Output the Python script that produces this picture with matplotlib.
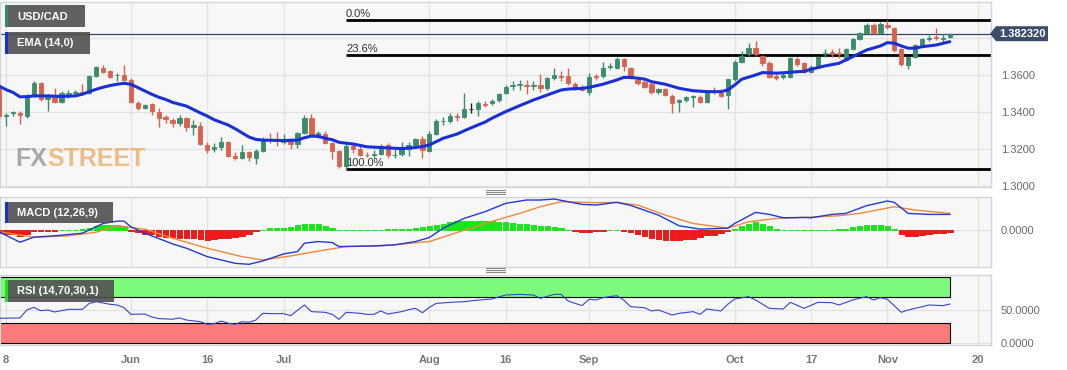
import matplotlib
matplotlib.use('Agg')
import matplotlib.pyplot as plt
from matplotlib.patches import Rectangle, Polygon
from matplotlib.lines import Line2D
import numpy as np

plt.rcParams['font.family'] = ['Liberation Sans', 'DejaVu Sans']

# ---------------- data ----------------
first_index = -1  # May 5 2023; index 0 = May 8 (weekday bars)
opens = [1.3540,1.3378,1.3396,1.3392,1.3378,1.3488,1.3555,1.3470,1.3480,1.3456,1.3500,1.3503,1.3510,1.3501,1.3596,1.3640,1.3622,1.3598,1.3600,1.3573,
         1.3447,1.3423,1.3443,1.3402,1.3371,1.3357,1.3339,1.3366,1.3321,1.3324,1.3222,1.3198,1.3212,1.3236,1.3164,1.3150,1.3182,1.3150,1.3191,1.3254,
         1.3247,1.3240,1.3252,1.3225,1.3285,1.3369,1.3276,1.3280,1.3231,1.3191,1.3108,1.3216,1.3198,1.3170,1.3166,1.3173,1.3222,1.3165,1.3173,1.3198,
         1.3222,1.3252,1.3191,1.3281,1.3349,1.3351,1.3378,1.3371,1.3415,1.3414,1.3445,1.3447,1.3465,1.3501,1.3538,1.3546,1.3548,1.3543,1.3546,1.3528,
         1.3582,1.3595,1.3596,1.3550,1.3537,1.3510,1.3594,1.3596,1.3644,1.3636,1.3686,1.3636,1.3573,1.3564,1.3551,1.3510,1.3523,1.3487,1.3452,1.3465,
         1.3481,1.3483,1.3456,1.3512,1.3505,1.3492,1.3576,1.3672,1.3713,1.3744,1.3703,1.3663,1.3595,1.3587,1.3591,1.3685,1.3663,1.3618,1.3649,1.3715,
         1.3722,1.3718,1.3681,1.3739,1.3793,1.3825,1.3870,1.3825,1.3870,1.3852,1.3739,1.3654,1.3699,1.3762,1.3795,1.3808,1.3796,1.3805]
highs = [1.3560,1.3392,1.3408,1.3408,1.3495,1.3567,1.3562,1.3495,1.3532,1.3512,1.3520,1.3517,1.3551,1.3600,1.3650,1.3655,1.3628,1.3610,1.3654,1.3585,
         1.3457,1.3445,1.3450,1.3420,1.3385,1.3370,1.3385,1.3375,1.3355,1.3348,1.3240,1.3230,1.3267,1.3245,1.3185,1.3222,1.3190,1.3200,1.3265,1.3288,
         1.3292,1.3283,1.3257,1.3292,1.3385,1.3389,1.3298,1.3295,1.3240,1.3195,1.3225,1.3225,1.3222,1.3185,1.3192,1.3225,1.3230,1.3200,1.3240,1.3240,
         1.3262,1.3268,1.3300,1.3360,1.3372,1.3394,1.3395,1.3501,1.3450,1.3460,1.3458,1.3470,1.3505,1.3545,1.3565,1.3572,1.3572,1.3565,1.3604,1.3590,
         1.3640,1.3620,1.3636,1.3560,1.3545,1.3610,1.3605,1.3669,1.3666,1.3696,1.3692,1.3642,1.3580,1.3575,1.3560,1.3530,1.3530,1.3495,1.3470,1.3488,
         1.3490,1.3490,1.3515,1.3537,1.3512,1.3580,1.3680,1.3732,1.3775,1.3785,1.3710,1.3675,1.3605,1.3610,1.3700,1.3695,1.3672,1.3655,1.3705,1.3740,
         1.3738,1.3745,1.3745,1.3800,1.3835,1.3880,1.3880,1.3885,1.3897,1.3860,1.3745,1.3700,1.3770,1.3800,1.3815,1.3852,1.3820,1.3826]
lows = [1.3370,1.3322,1.3380,1.3335,1.3365,1.3480,1.3462,1.3405,1.3450,1.3448,1.3475,1.3494,1.3492,1.3495,1.3590,1.3612,1.3585,1.3570,1.3568,1.3448,
        1.3410,1.3415,1.3384,1.3321,1.3340,1.3317,1.3325,1.3297,1.3276,1.3220,1.3177,1.3185,1.3195,1.3155,1.3141,1.3146,1.3135,1.3119,1.3185,1.3230,
        1.3215,1.3225,1.3200,1.3205,1.3280,1.3270,1.3262,1.3225,1.3144,1.3100,1.3093,1.3176,1.3160,1.3155,1.3150,1.3165,1.3150,1.3150,1.3160,1.3160,
        1.3210,1.3151,1.3185,1.3275,1.3330,1.3340,1.3350,1.3365,1.3395,1.3380,1.3425,1.3438,1.3455,1.3495,1.3520,1.3520,1.3500,1.3520,1.3510,1.3520,
        1.3575,1.3570,1.3545,1.3520,1.3512,1.3490,1.3575,1.3585,1.3630,1.3630,1.3620,1.3578,1.3545,1.3530,1.3500,1.3500,1.3485,1.3393,1.3398,1.3455,
        1.3425,1.3450,1.3450,1.3500,1.3480,1.3414,1.3570,1.3665,1.3705,1.3705,1.3650,1.3585,1.3575,1.3578,1.3585,1.3650,1.3610,1.3610,1.3640,1.3700,
        1.3700,1.3690,1.3675,1.3735,1.3788,1.3820,1.3820,1.3820,1.3850,1.3725,1.3650,1.3631,1.3690,1.3755,1.3785,1.3790,1.3775,1.3800]
closes = [1.3378,1.3382,1.3400,1.3385,1.3488,1.3555,1.3470,1.3488,1.3456,1.3501,1.3503,1.3507,1.3503,1.3596,1.3642,1.3618,1.3591,1.3602,1.3573,1.3456,
          1.3423,1.3438,1.3405,1.3369,1.3360,1.3339,1.3366,1.3321,1.3330,1.3227,1.3195,1.3212,1.3236,1.3164,1.3150,1.3186,1.3155,1.3191,1.3252,1.3249,
          1.3245,1.3245,1.3225,1.3285,1.3369,1.3276,1.3285,1.3231,1.3191,1.3108,1.3216,1.3198,1.3168,1.3166,1.3172,1.3216,1.3168,1.3170,1.3204,1.3222,
          1.3252,1.3195,1.3281,1.3351,1.3353,1.3378,1.3371,1.3416,1.3415,1.3450,1.3438,1.3459,1.3496,1.3533,1.3545,1.3550,1.3543,1.3547,1.3528,1.3582,
          1.3600,1.3590,1.3555,1.3528,1.3519,1.3591,1.3589,1.3636,1.3648,1.3686,1.3650,1.3582,1.3555,1.3537,1.3510,1.3523,1.3492,1.3450,1.3465,1.3483,
          1.3485,1.3456,1.3505,1.3508,1.3487,1.3576,1.3672,1.3703,1.3744,1.3713,1.3663,1.3591,1.3582,1.3600,1.3690,1.3659,1.3618,1.3645,1.3699,1.3721,
          1.3716,1.3712,1.3739,1.3793,1.3829,1.3870,1.3825,1.3876,1.3858,1.3735,1.3659,1.3696,1.3762,1.3793,1.3800,1.3802,1.3801,1.3823]

ema_idx = [-1,0,1,2,3,4,6,8,10,11,12,13,14,15,16,17,18,19,20,21,22,23,24,26,28,29,30,32,33,35,36,37,40,42,43,44,45,46,47,48,50,52,55,57,59,60,61,62,63,65,66,68,69,70,72,74,76,78,80,81,83,84,86,88,89,90,92,93,95,97,99,101,103,104,105,106,108,109,111,112,113,115,116,118,120,122,124,126,127,128,129,130,131,132,134,136]
ema_val = [1.3540,1.3521,1.3506,1.3482,1.3483,1.3487,1.3487,1.3484,1.3487,1.3496,1.3510,1.3523,1.3534,1.3543,1.3550,1.3555,1.3550,1.3532,1.3514,1.3496,1.3480,1.3468,1.3452,1.3432,1.3395,1.3378,1.3358,1.3330,1.3310,1.3265,1.3252,1.3248,1.3246,1.3248,1.3261,1.3270,1.3268,1.3258,1.3250,1.3236,1.3227,1.3212,1.3206,1.3202,1.3208,1.3213,1.3222,1.3240,1.3258,1.3281,1.3298,1.3330,1.3345,1.3366,1.3402,1.3434,1.3465,1.3492,1.3519,1.3524,1.3528,1.3533,1.3550,1.3573,1.3587,1.3587,1.3578,1.3564,1.3550,1.3528,1.3515,1.3510,1.3510,1.3519,1.3546,1.3577,1.3600,1.3613,1.3610,1.3612,1.3615,1.3620,1.3631,1.3649,1.3663,1.3699,1.3735,1.3757,1.3775,1.3772,1.3757,1.3745,1.3745,1.3753,1.3762,1.3780]

fib_labels = ['0.0%', '23.6%', '100.0%']
fib_prices = [1.3897, 1.3707, 1.3092]
fib_start = 49
current_price = 1.382320

macd_idx = [-1,2,4,7,11,14,16,17,18,20,24,26,29,33,35,37,40,42,43,45,47,48,53,56,59,61,63,66,69,72,75,77,79,83,85,88,90,94,97,100,104,105,108,110,112,115,116,119,121,124,127,128,130,133,136]
macd_val = [-0.0004,-0.0035,-0.0020,-0.0016,-0.0008,0.0021,0.0028,0.0028,0.0011,-0.0008,-0.0040,-0.0053,-0.0078,-0.0098,-0.0101,-0.0091,-0.0070,-0.0063,-0.0038,-0.0033,-0.0036,-0.0048,-0.0046,-0.0043,-0.0033,-0.0021,0.0007,0.0036,0.0056,0.0081,0.0091,0.0091,0.0094,0.0078,0.0076,0.0084,0.0075,0.0046,0.0014,0.0004,0.0007,0.0021,0.0054,0.0048,0.0038,0.0039,0.0038,0.0048,0.0051,0.0074,0.0088,0.0084,0.0051,0.0048,0.0048]
signal_idx = [-1,4,9,13,16,20,24,29,34,37,41,46,49,54,61,64,69,74,77,80,85,88,91,95,99,104,107,111,115,120,123,128,131,136]
signal_val = [-0.0004,-0.0020,-0.0016,-0.0005,0.0014,0.0004,-0.0023,-0.0053,-0.0078,-0.0088,-0.0076,-0.0058,-0.0048,-0.0046,-0.0033,-0.0013,0.0021,0.0051,0.0071,0.0086,0.0083,0.0084,0.0076,0.0046,0.0021,0.0007,0.0026,0.0036,0.0039,0.0044,0.0051,0.0071,0.0061,0.0051]
hist_val = [-0.0008,-0.0010,-0.0011,-0.0015,-0.0010,-0.0003,-0.0002,-0.0001,-0.0001,0.0001,0.0001,0.0002,0.0003,0.0006,0.0012,0.0015,0.0016,0.0015,0.0012,-0.0001,
            -0.0005,-0.0009,-0.0011,-0.0016,-0.0018,-0.0020,-0.0021,-0.0021,-0.0023,-0.0026,-0.0029,-0.0026,-0.0023,-0.0022,-0.0020,-0.0016,-0.0010,-0.0003,0.0001,0.0006,
            0.0006,0.0008,0.0009,0.0016,0.0020,0.0020,0.0018,0.0012,0.0006,0.0001,0.0001,0.0000,0.0001,0.0000,0.0001,0.0001,0.0003,0.0003,0.0005,0.0005,
            0.0007,0.0009,0.0013,0.0016,0.0020,0.0025,0.0028,0.0029,0.0028,0.0028,0.0027,0.0027,0.0026,0.0025,0.0022,0.0020,0.0018,0.0017,0.0013,0.0012,
            0.0010,0.0008,0.0002,-0.0001,-0.0005,-0.0004,-0.0003,-0.0001,0.0001,0.0001,-0.0002,-0.0005,-0.0010,-0.0017,-0.0022,-0.0024,-0.0027,-0.0029,-0.0029,-0.0026,
            -0.0024,-0.0018,-0.0014,-0.0012,-0.0007,-0.0002,0.0005,0.0012,0.0018,0.0024,0.0020,0.0012,0.0003,0.0001,0.0001,0.0001,0.0000,0.0000,0.0001,0.0002,
            0.0002,0.0003,0.0004,0.0009,0.0012,0.0016,0.0016,0.0015,0.0014,0.0003,-0.0010,-0.0016,-0.0015,-0.0012,-0.0009,-0.0007,-0.0006,-0.0005]

rsi_idx = [-1,2,3,4,5,6,7,9,11,12,13,15,16,17,18,20,21,22,24,25,26,28,29,30,31,32,33,34,35,36,37,38,40,41,43,44,46,47,48,49,51,52,53,54,55,57,58,59,60,61,62,64,66,68,70,72,74,76,77,79,80,81,83,84,85,86,88,89,90,92,93,94,96,97,99,100,101,103,104,105,107,108,110,112,113,115,117,119,120,122,124,125,126,127,129,130,132,133,135,136]
rsi_val = [37.4,38,50,54,49,50,47,51,51,60,62.6,58.6,57.6,53.5,43.4,43.9,39.4,37,36,38,34.8,32.3,28.3,29.3,33.3,30,28.3,32.3,31.3,34.8,45,44.5,44.5,41.4,57.6,47.5,46.5,43.4,35.8,46.5,45,43.4,43.4,48.5,43.9,47.5,50.5,52.5,45.9,54,60,61.6,62.6,65,66.7,72.7,73.7,72.7,67.7,73.7,73.7,63.6,56.6,66.2,65.2,68.7,71.7,65.2,55,53.5,48.5,50,42.4,45,47.5,43.4,51.5,48.5,58.6,66.7,70.2,65.2,52.5,51.5,61.6,52.5,61.6,61.1,57.6,65.2,70.2,65.2,68.7,66.2,46.5,50,55,57.6,56.6,59]
rsi_upper, rsi_lower = 70, 30

tick_idx = [0, 18, 29, 40, 61, 72, 84, 105, 116, 127, 140]
tick_labels = ['8', 'Jun', '16', 'Jul', 'Aug', '16', 'Sep', 'Oct', '17', 'Nov', '20']

# ---------------- layout ----------------
W, H = 1067, 370
fig = plt.figure(figsize=(W / 100, H / 100), dpi=100)
fig.patch.set_facecolor('white')

def axpx(l, t, r, b):
    return fig.add_axes([l / W, 1 - b / H, (r - l) / W, (b - t) / H])

def fpx(x, y):
    return (x / W, 1 - y / H)

XL = (-0.865, 141.93)
PANEL_BG = '#f7f7f7'
GRID = '#e2e2e2'
BORDER = '#d3d6dc'
TICKC = '#6b6b6b'

ax = axpx(0, 2, 991, 187)
axm = axpx(0, 197, 991, 267)
axr = axpx(0, 275, 991, 345)

for a in (ax, axm, axr):
    a.set_facecolor(PANEL_BG)
    a.set_xlim(*XL)
    for s in a.spines.values():
        s.set_color(BORDER)
        s.set_linewidth(1.0)
    a.set_xticks(tick_idx)
    a.tick_params(axis='both', length=0, labelsize=8, labelcolor=TICKC)
    a.grid(True, axis='x', color=GRID, linewidth=0.9)
    a.yaxis.tick_right()
    a.set_axisbelow(True)

ax.set_xticklabels([])
axm.set_xticklabels([])
axr.set_xticklabels(tick_labels, fontweight='bold', color='#777777', fontsize=8)
axr.tick_params(axis='x', pad=7)

# ---- main panel ----
ax.set_ylim(1.29946, 1.39946)
ax.set_yticks([1.30, 1.32, 1.34, 1.36, 1.38])
ax.set_yticklabels(['1.3000', '1.3200', '1.3400', '1.3600', ''])
ax.tick_params(axis='y', pad=7)
ax.grid(True, axis='y', color=GRID, linewidth=0.9)

x = np.arange(first_index, first_index + len(closes))
o = np.array(opens); h = np.array(highs); l = np.array(lows); c = np.array(closes)
GREEN = '#3b8b6d'
RED = '#d9614d'
cols = [GREEN if cc > oo else (RED if cc < oo else '#222222') for oo, cc in zip(o, c)]
ax.vlines(x, l, h, colors=cols, linewidth=1.0, zorder=3)
ax.bar(x, np.abs(c - o), bottom=np.minimum(o, c), width=0.62, color=cols,
       edgecolor=cols, linewidth=0.6, zorder=4)

ax.plot(ema_idx, ema_val, color='#1b2fd6', linewidth=2.2, zorder=5, solid_capstyle='round')

for lab, pr in zip(fib_labels, fib_prices):
    ax.plot([fib_start, XL[1]], [pr, pr], color='black', linewidth=2.0, zorder=2,
            solid_capstyle='butt')
    ax.text(fib_start, pr + 0.0007, lab, fontsize=8, color='#333333', ha='left',
            va='bottom', zorder=6)

ax.axhline(current_price, color='#34466a', linewidth=0.9, zorder=2)

# watermark
fx = ax.text(15 / 991, 1 - 169 / 185, 'FX', transform=ax.transAxes, fontsize=18,
             fontweight='bold', color='#8f8f8f', alpha=0.75, ha='left', va='bottom', zorder=1)
ax.annotate('STREET', xy=(1, 0), xycoords=fx, xytext=(0, 0), textcoords='offset points',
            fontsize=18, fontweight='bold', color='#eaa55a', alpha=0.7, ha='left',
            va='bottom', zorder=1)

# ---- MACD panel ----
axm.set_ylim(-0.0109, 0.0100)
axm.set_yticks([0.0])
axm.set_yticklabels(['0.0000'])
axm.tick_params(axis='y', pad=7)
axm.grid(True, axis='y', color=GRID, linewidth=0.9)
hv = np.array(hist_val)
hcols = ['#19e619' if v >= 0 else '#ee1a1a' for v in hv]
axm.bar(x, hv, width=0.78, color=hcols, edgecolor=hcols, linewidth=0.7, zorder=3)
axm.plot(signal_idx, signal_val, color='#f0883a', linewidth=1.0, zorder=4)
axm.plot(macd_idx, macd_val, color='#2438d8', linewidth=1.0, zorder=5)

# ---- RSI panel ----
axr.set_ylim(-3, 103)
axr.set_yticks([0, 50])
axr.set_yticklabels(['0.0000', '50.0000'])
axr.tick_params(axis='y', pad=7)
axr.grid(True, axis='y', color=GRID, linewidth=0.9)
last_x = x[-1]
axr.add_patch(Rectangle((XL[0], rsi_upper), last_x - XL[0], 100 - rsi_upper,
                        facecolor='#7cfa7c', edgecolor='black', linewidth=0.8, zorder=2))
axr.add_patch(Rectangle((XL[0], 0), last_x - XL[0], rsi_lower,
                        facecolor='#fa7b7b', edgecolor='black', linewidth=0.8, zorder=2))
axr.plot(rsi_idx, rsi_val, color='#3446cc', linewidth=0.8, zorder=4)

# ---- label boxes ----
def label_box(l, t, r, b, text, stripe):
    p = Rectangle(fpx(l, b), (r - l) / W, (b - t) / H, transform=fig.transFigure,
                  facecolor='#505050', alpha=0.9, edgecolor='none', zorder=10)
    fig.patches.append(p)
    s = Rectangle(fpx(l, b), 3 / W, (b - t) / H, transform=fig.transFigure,
                  facecolor=stripe, edgecolor='none', zorder=11)
    fig.patches.append(s)
    fig.text(*fpx(l + 12, (t + b) / 2 + 0.5), text, color='white', fontsize=8,
             fontweight='bold', ha='left', va='center', zorder=12)

label_box(5, 5, 85, 27, 'USD/CAD', '#2e8b6e')
label_box(5, 32, 90, 54, 'EMA (14,0)', '#1530e0')
label_box(5, 202, 113, 223, 'MACD (12,26,9)', '#1530e0')
label_box(5, 280, 114, 302, 'RSI (14,70,30,1)', '#22dd22')

# ---- current price tag ----
ypx = 2 + (1.39946 - current_price) / (1.39946 - 1.29946) * 185
pts = [fpx(990, ypx), fpx(996, ypx - 7.5), fpx(1048, ypx - 7.5), fpx(1048, ypx + 7.5), fpx(996, ypx + 7.5)]
fig.patches.append(Polygon(pts, closed=True, transform=fig.transFigure,
                           facecolor='#3a4e6b', edgecolor='none', zorder=10))
fig.text(*fpx(1022, ypx + 0.5), f'{current_price:.6f}', color='white', fontsize=8,
         fontweight='bold', ha='center', va='center', zorder=11)

# ---- panel drag handles ----
for yy in (192, 270):
    for dy in (-2, 0, 2):
        fig.lines.append(Line2D([486 / W, 505 / W], [1 - (yy + dy) / H] * 2,
                                transform=fig.transFigure, color='#8a8a8a', linewidth=0.8))

fig.savefig('out.png', dpi=100, facecolor='white')
